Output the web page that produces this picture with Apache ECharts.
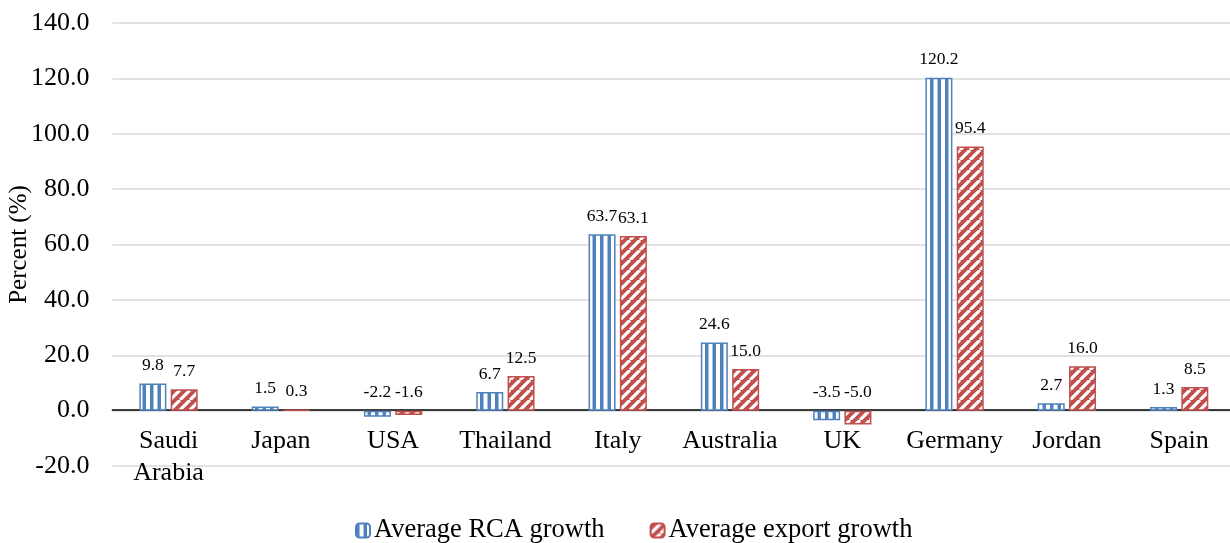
<!DOCTYPE html>
<html>
<head>
<meta charset="utf-8">
<script src="https://cdn.jsdelivr.net/npm/echarts@6/dist/echarts.min.js"></script>
<style>
html,body{margin:0;padding:0;background:#fff;}
#chart{width:1230px;height:543px;}
</style>
</head>
<body>
<div id="chart"></div>
<script>
const categories = ['Saudi\nArabia', 'Japan', 'USA', 'Thailand', 'Italy', 'Australia', 'UK', 'Germany', 'Jordan', 'Spain'];
const rcaGrowth = [9.8, 1.5, -2.2, 6.7, 63.7, 24.6, -3.5, 120.2, 2.7, 1.3];
const exportGrowth = [7.7, 0.3, -1.6, 12.5, 63.1, 15.0, -5.0, 95.4, 16.0, 8.5];
const seriesNames = ['Average RCA growth', 'Average export growth'];

const BLUE = '#4f81bd';
const RED = '#c0504d';
const FONT = '"Liberation Serif", "Times New Roman", serif';

function stripePattern() {
  const c = document.createElement('canvas');
  c.width = 15; c.height = 8;
  const g = c.getContext('2d');
  g.fillStyle = '#fff';
  g.fillRect(0, 0, 15, 8);
  g.fillStyle = BLUE;
  g.fillRect(0, 0, 3.5, 8);
  g.fillRect(7.5, 0, 3.5, 8);
  return c;
}
function diagPattern() {
  const s = 10;
  const c = document.createElement('canvas');
  c.width = s; c.height = s;
  const g = c.getContext('2d');
  g.fillStyle = RED;
  g.fillRect(0, 0, s, s);
  g.strokeStyle = '#fff';
  g.lineWidth = 3.2;
  g.beginPath();
  for (let k = -1; k <= 1; k++) {
    g.moveTo(k * s, s);
    g.lineTo(k * s + s, 0);
  }
  g.stroke();
  return c;
}

const chart = echarts.init(document.getElementById('chart'), null, {renderer: 'canvas'});
const labelCfg = {
  show: true,
  position: 'top',
  distance: 9,
  fontFamily: FONT,
  fontSize: 17.5,
  color: '#000',
  formatter: p => p.value.toFixed(1)
};
chart.setOption({
  animation: false,
  textStyle: {fontFamily: FONT},
  grid: {left: 112.4, right: -5.3, top: 23, bottom: 77, containLabel: false, outerBoundsMode: 'none'},
  legend: {
    top: 517,
    left: 355,
    padding: 0,
    itemWidth: 14,
    itemHeight: 14,
    itemGap: 45,
    textStyle: {fontFamily: FONT, fontSize: 26.5, color: '#000', padding: [0, 0, 0, -1]},
    data: seriesNames
  },
  xAxis: {
    type: 'category',
    data: categories,
    offset: -56,
    axisLine: {onZero: false, lineStyle: {color: '#000', width: 1.5}},
    axisTick: {show: false},
    axisLabel: {fontFamily: FONT, fontSize: 26, color: '#000', margin: 15, lineHeight: 32, interval: 0}
  },
  yAxis: {
    type: 'value',
    min: -20, max: 140, interval: 20,
    name: 'Percent (%)',
    nameLocation: 'middle',
    nameGap: 80,
    nameMoveOverlap: false,
    nameTextStyle: {fontFamily: FONT, fontSize: 25, color: '#000'},
    axisLine: {show: false},
    axisTick: {show: false},
    axisLabel: {fontFamily: FONT, fontSize: 26, color: '#000', margin: 23, formatter: v => v.toFixed(1)},
    splitLine: {lineStyle: {color: '#d9d9d9', width: 1.5}}
  },
  series: [
    {
      name: seriesNames[0],
      type: 'bar',
      data: rcaGrowth,
      barWidth: 27,
      barGap: '16%',
      itemStyle: {color: {image: stripePattern(), repeat: 'repeat'}, borderColor: BLUE, borderWidth: 1.5},
      label: labelCfg
    },
    {
      name: seriesNames[1],
      type: 'bar',
      data: exportGrowth,
      barWidth: 27,
      barGap: '16%',
      itemStyle: {color: {image: diagPattern(), repeat: 'repeat'}, borderColor: RED, borderWidth: 1.5},
      label: labelCfg
    }
  ]
});
</script>
</body>
</html>
